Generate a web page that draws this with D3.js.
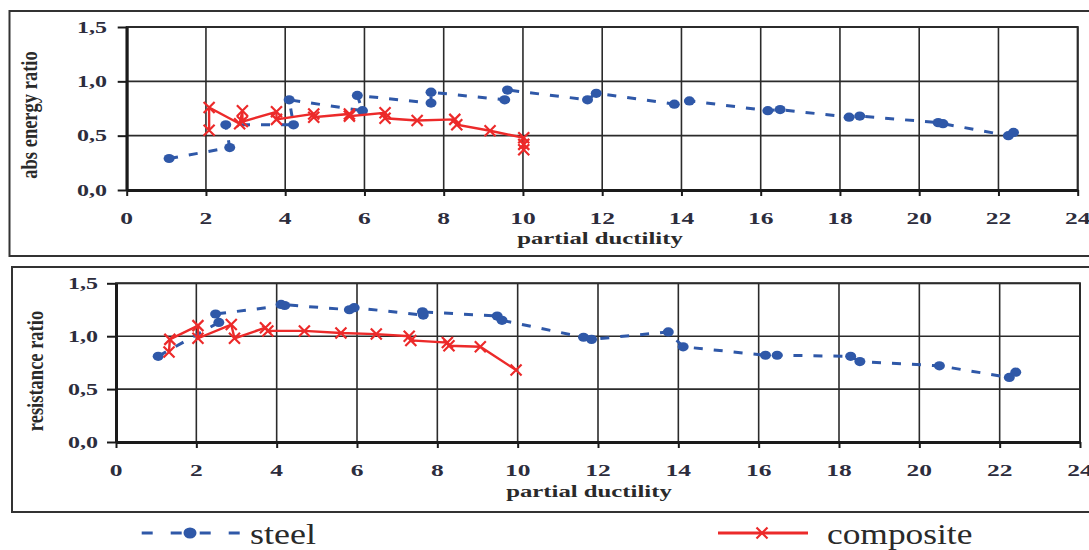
<!DOCTYPE html>
<html lang="en">
<head>
<meta charset="utf-8">
<title>abs energy ratio and resistance ratio vs partial ductility</title>
<script src="https://cdn.jsdelivr.net/npm/d3@7"></script>
<style>
body { margin: 0; background: #fff; }
svg { display: block; font-family: "Liberation Serif", "Times New Roman", serif; }

.frame { fill: none; stroke: #333; stroke-width: 2px; }
.border { fill: none; stroke: #2b2b2b; stroke-width: 2px; }
.grid line { stroke: #2b2b2b; stroke-width: 1.6px; }
.axis path { stroke: #1a1a1a; stroke-width: 3px; }
.axis line { stroke: #1a1a1a; stroke-width: 2px; }

.steel { fill: none; stroke: #2f58a8; stroke-width: 3px; stroke-dasharray: 9,11; }
.dot { fill: #2f58a8; }
.composite { fill: none; stroke: #ec2a2a; stroke-width: 2.4px; }
.cross { fill: none; stroke: #ec2a2a; stroke-width: 2.2px; }

.tick-label { fill: #2d2d3d; font-weight: bold; }
.title { fill: #2a2a2a; font-weight: bold; }
.legend-text { fill: #2a2a2a; font-size: 29px; }
</style>
</head>
<body>
<script>

// ticks
var xTicks = [0, 2, 4, 6, 8, 10, 12, 14, 16, 18, 20, 22, 24];
var yTicks = [0, 0.5, 1.0, 1.5];

// [partial ductility, ratio]
var steelEnergy = [
  [1.07, 0.29], [2.60, 0.39], [2.50, 0.60], [4.21, 0.60], [4.10, 0.83],
  [5.95, 0.73], [5.82, 0.87], [7.68, 0.80], [7.68, 0.90], [9.54, 0.83],
  [9.61, 0.92], [11.63, 0.83], [11.85, 0.89], [13.82, 0.79], [14.20, 0.82],
  [16.18, 0.73], [16.49, 0.74], [18.23, 0.67], [18.50, 0.68], [20.48, 0.62],
  [20.60, 0.61], [22.25, 0.50], [22.38, 0.53]
];
var compositeEnergy = [
  [2.08, 0.55], [2.08, 0.76], [2.85, 0.61], [2.92, 0.73], [2.92, 0.63],
  [3.78, 0.72], [3.78, 0.65], [4.72, 0.70], [4.72, 0.67], [5.62, 0.70],
  [5.62, 0.68], [6.52, 0.71], [6.52, 0.66], [7.33, 0.64], [8.28, 0.65],
  [8.33, 0.60], [9.17, 0.545], [10.02, 0.48], [10.02, 0.42], [10.02, 0.37]
];
var steelResistance = [
  [1.05, 0.81], [2.56, 1.13], [2.48, 1.21], [4.20, 1.29], [4.11, 1.30],
  [5.81, 1.25], [5.93, 1.27], [7.65, 1.20], [7.63, 1.23], [9.49, 1.19],
  [9.61, 1.15], [11.64, 0.99], [11.84, 0.97], [13.75, 1.04], [14.12, 0.90],
  [16.17, 0.82], [16.46, 0.82], [18.29, 0.81], [18.52, 0.76], [20.50, 0.72],
  [22.24, 0.61], [22.40, 0.66]
];
var compositeResistance = [
  [1.32, 0.85], [1.34, 0.97], [2.04, 1.10], [2.04, 0.98], [2.87, 1.11],
  [2.95, 0.98], [3.72, 1.08], [3.78, 1.05], [4.69, 1.05], [5.60, 1.03],
  [6.48, 1.02], [7.30, 1.00], [7.34, 0.96], [8.25, 0.94], [8.29, 0.91],
  [9.07, 0.90], [9.96, 0.68]
];

var xTitle = "partial ductility";
var legendNames = ["steel", "composite"];

var width = 1089,
    height = 550,
    stretch = 1.5;   // the source picture is squashed sideways

var panels = [
  { yTitle: "abs energy ratio", steel: steelEnergy, composite: compositeEnergy,
    frame: { x: 9.5, y: 11, w: 1100, h: 245 },
    plot: { left: 126.7, top: 27, right: 1077.7, bottom: 190 },
    yTitlePos: [29, 115], xTitlePos: [600, 244], yLabelGap: 19.7 },
  { yTitle: "resistance ratio", steel: steelResistance, composite: compositeResistance,
    frame: { x: 12, y: 267, w: 1100, h: 245 },
    plot: { left: 116, top: 283.3, right: 1080, bottom: 442 },
    yTitlePos: [35, 371], xTitlePos: [589, 497], yLabelGap: 18 }
];

var svg = d3.select("body").append("svg")
    .attr("width", width)
    .attr("height", height);

function fmt(v) {
  return d3.format(".1f")(v).replace(".", ",");
}

function crossPath(cx, cy, s) {
  return "M" + (cx - s) + "," + (cy - s) + "L" + (cx + s) + "," + (cy + s) +
         "M" + (cx - s) + "," + (cy + s) + "L" + (cx + s) + "," + (cy - s);
}

panels.forEach(function(p) {
  var x = d3.scaleLinear().domain([0, 24]).range([p.plot.left, p.plot.right]);
  var y = d3.scaleLinear().domain([0, 1.5]).range([p.plot.bottom, p.plot.top]);

  svg.append("rect")
      .attr("class", "frame")
      .attr("x", p.frame.x)
      .attr("y", p.frame.y)
      .attr("width", p.frame.w)
      .attr("height", p.frame.h);

  var g = svg.append("g");

  // grid
  var grid = g.append("g").attr("class", "grid");
  grid.selectAll(".vx").data(xTicks).enter().append("line")
      .attr("x1", function(d) { return x(d); })
      .attr("x2", function(d) { return x(d); })
      .attr("y1", y(0))
      .attr("y2", y(1.5));
  grid.selectAll(".hy").data(yTicks).enter().append("line")
      .attr("x1", x(0))
      .attr("x2", x(24))
      .attr("y1", function(d) { return y(d); })
      .attr("y2", function(d) { return y(d); });

  g.append("rect")
      .attr("class", "border")
      .attr("x", x(0))
      .attr("y", y(1.5))
      .attr("width", x(24) - x(0))
      .attr("height", y(0) - y(1.5));

  // axes (marks only, labels below)
  var xa = g.append("g")
      .attr("class", "axis")
      .attr("transform", "translate(0," + y(0) + ")")
      .call(d3.axisBottom(x).tickValues(xTicks).tickSizeInner(6).tickSizeOuter(0));
  xa.selectAll("text").remove();

  var ya = g.append("g")
      .attr("class", "axis")
      .attr("transform", "translate(" + x(0) + ",0)")
      .call(d3.axisLeft(y).tickValues(yTicks).tickSizeInner(9).tickSizeOuter(0));
  ya.selectAll("text").remove();

  g.selectAll(".xl").data(xTicks).enter().append("text")
      .attr("class", "tick-label")
      .attr("text-anchor", "middle")
      .style("font-size", "17px")
      .attr("transform", function(d) {
        return "translate(" + x(d) + "," + (y(0) + 34) + ") scale(" + stretch + ",1)";
      })
      .text(function(d) { return d; });

  g.selectAll(".yl").data(yTicks).enter().append("text")
      .attr("class", "tick-label")
      .attr("text-anchor", "end")
      .style("font-size", "16px")
      .attr("transform", function(d) {
        return "translate(" + (x(0) - p.yLabelGap) + "," + (y(d) + 5.5) + ") scale(" + stretch + ",1)";
      })
      .text(fmt);

  // titles
  g.append("text")
      .attr("class", "title")
      .attr("text-anchor", "middle")
      .style("font-size", "16.5px")
      .attr("transform", "translate(" + p.xTitlePos[0] + "," + p.xTitlePos[1] + ") scale(" + stretch + ",1)")
      .text(xTitle);

  g.append("text")
      .attr("class", "title")
      .attr("text-anchor", "middle")
      .attr("dy", "0.35em")
      .style("font-size", "18.5px")
      .attr("transform", "translate(" + p.yTitlePos[0] + "," + p.yTitlePos[1] + ") rotate(-90) scale(1,1.2)")
      .text(p.yTitle);

  // series
  var line = d3.line()
      .x(function(d) { return x(d[0]); })
      .y(function(d) { return y(d[1]); });

  g.append("path")
      .datum(p.steel)
      .attr("class", "steel")
      .attr("d", line);

  g.selectAll(".dot").data(p.steel).enter().append("ellipse")
      .attr("class", "dot")
      .attr("cx", function(d) { return x(d[0]); })
      .attr("cy", function(d) { return y(d[1]); })
      .attr("rx", 5.5)
      .attr("ry", 4.6);

  g.append("path")
      .datum(p.composite)
      .attr("class", "composite")
      .attr("d", line);

  g.selectAll(".cross").data(p.composite).enter().append("path")
      .attr("class", "cross")
      .attr("d", function(d) { return crossPath(x(d[0]), y(d[1]), 5.5); });
});

// legend
var legend = svg.append("g");
var ly = 533;

legend.append("line")
    .attr("class", "steel")
    .style("stroke-dasharray", "11,18")
    .attr("x1", 141.7).attr("x2", 241)
    .attr("y1", ly).attr("y2", ly);
legend.append("ellipse")
    .attr("class", "dot")
    .attr("cx", 190).attr("cy", ly)
    .attr("rx", 6.5).attr("ry", 5.5);
legend.append("text")
    .attr("class", "legend-text")
    .attr("transform", "translate(250," + (ly + 11) + ") scale(1.24,1)")
    .text(legendNames[0]);

legend.append("line")
    .attr("class", "composite")
    .style("stroke-width", "3px")
    .attr("x1", 718).attr("x2", 808)
    .attr("y1", ly).attr("y2", ly);
legend.append("path")
    .attr("class", "cross")
    .attr("d", crossPath(762, ly, 5.5));
legend.append("text")
    .attr("class", "legend-text")
    .attr("transform", "translate(827," + (ly + 11) + ") scale(1.22,1)")
    .text(legendNames[1]);

</script>
</body>
</html>
